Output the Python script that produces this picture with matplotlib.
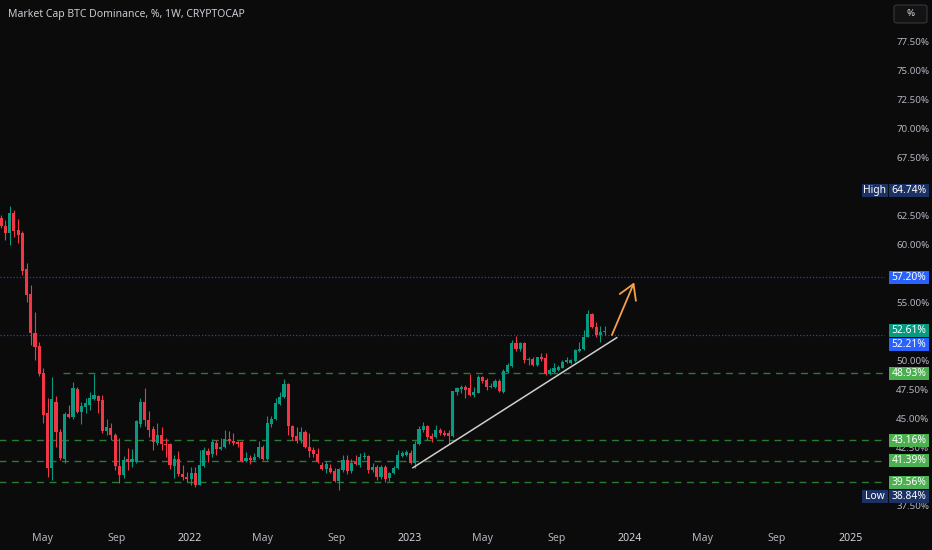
import numpy as np
import pandas as pd
import matplotlib
matplotlib.use('Agg')
import matplotlib.pyplot as plt
from matplotlib.patches import Rectangle, FancyBboxPatch

W, H = 932, 550
BG = '#0b0b0b'
UP, DOWN = '#089981', '#f23645'
plt.rcParams['font.family'] = ['Noto Sans', 'DejaVu Sans']

# weekly candles, BTC dominance (%)
first_week = '2021-02-22'
opens = [62.33, 61.64, 61.04, 62.76, 61.29, 61.04, 57.93, 55.78, 52.41, 51.29,
         48.97, 45.52, 40.78, 46.47, 43.88, 41.55, 45.43, 45.17, 47.59, 45.60,
         46.03, 46.21, 46.72, 46.98, 46.64, 43.97, 44.22, 43.62, 40.95, 40.17,
         41.55, 41.29, 41.29, 44.57, 46.47, 44.91, 44.14, 42.93, 43.62, 42.84,
         42.84, 40.95, 41.55, 40.26, 40.00, 39.83, 40.34, 39.31, 40.95, 42.24,
         41.98, 42.93, 42.41, 42.59, 43.28, 43.10, 43.02, 43.02, 41.38, 41.64,
         41.47, 41.72, 42.59, 41.55, 44.57, 45.00, 46.29, 46.90, 48.02, 44.40,
         43.53, 43.19, 43.88, 42.59, 42.33, 41.98, 41.03, 40.69, 40.78, 40.52,
         39.66, 40.60, 41.47, 40.52, 41.29, 41.03, 41.72, 41.81, 40.60, 40.86,
         40.00, 40.86, 39.91, 40.34, 40.78, 41.81, 41.90, 42.07, 41.21, 42.84,
         44.05, 44.40, 43.53, 43.45, 44.05, 43.79, 43.79, 43.53, 47.33, 47.59,
         47.76, 47.67, 47.07, 47.24, 48.62, 48.36, 47.76, 47.76, 48.28, 47.33,
         49.05, 49.57, 51.55, 51.03, 51.55, 50.09, 50.17, 49.66, 50.34, 50.26,
         48.88, 49.05, 49.22, 49.40, 49.91, 49.83, 50.00, 50.86, 51.03, 52.07,
         54.05, 52.93, 52.24, 52.50]
highs = [62.60, 62.16, 63.36, 63.02, 62.24, 61.21, 58.45, 56.55, 54.22, 51.64,
         49.40, 46.81, 48.62, 46.98, 44.14, 45.60, 46.21, 48.19, 47.76, 46.47,
         46.81, 47.33, 48.88, 47.07, 47.07, 45.00, 44.66, 43.79, 43.36, 41.81,
         42.50, 42.41, 44.91, 46.81, 47.67, 45.69, 44.40, 44.66, 44.31, 43.36,
         42.93, 41.90, 42.24, 41.03, 40.43, 40.86, 40.86, 42.33, 42.59, 42.50,
         43.28, 43.19, 43.36, 44.05, 43.97, 43.79, 43.10, 43.10, 42.16, 41.90,
         42.07, 43.10, 42.76, 45.26, 45.26, 46.81, 47.33, 48.45, 48.10, 44.48,
         44.31, 44.31, 44.05, 43.79, 42.59, 42.50, 41.29, 41.38, 41.12, 40.78,
         40.78, 41.90, 41.90, 41.55, 41.90, 42.07, 42.16, 41.90, 41.21, 41.03,
         41.03, 41.03, 40.43, 40.95, 42.33, 42.24, 42.33, 42.33, 43.10, 44.40,
         44.74, 44.48, 43.79, 44.48, 44.22, 44.05, 44.05, 47.41, 47.76, 47.93,
         47.93, 48.88, 47.76, 48.79, 48.71, 48.53, 48.10, 48.45, 48.45, 49.31,
         49.83, 51.81, 52.16, 51.64, 51.64, 50.34, 50.34, 50.34, 50.69, 50.69,
         49.40, 49.83, 49.66, 50.09, 50.34, 50.17, 51.03, 51.64, 52.67, 54.40,
         54.14, 53.36, 53.02, 53.02]
lows = [61.50, 60.43, 60.00, 60.69, 60.17, 57.41, 55.09, 51.38, 50.09, 48.71,
        44.66, 40.00, 39.74, 42.59, 41.47, 41.21, 45.09, 45.00, 45.52, 44.57,
        45.52, 45.78, 46.64, 45.52, 43.79, 43.62, 43.19, 40.60, 39.48, 39.91,
        40.60, 40.86, 41.21, 44.31, 44.40, 43.45, 42.33, 42.76, 42.33, 41.72,
        40.69, 39.91, 40.09, 39.74, 39.57, 39.31, 39.14, 39.31, 40.86, 41.29,
        41.72, 41.90, 42.33, 42.50, 42.84, 42.76, 42.59, 41.29, 41.29, 41.12,
        41.38, 41.64, 41.47, 41.47, 44.31, 44.91, 46.21, 46.81, 43.62, 43.19,
        42.93, 42.93, 42.50, 41.72, 41.72, 41.21, 40.60, 40.34, 40.34, 39.57,
        38.84, 40.43, 40.26, 40.34, 41.03, 40.86, 41.55, 40.34, 40.43, 39.74,
        39.83, 39.57, 39.66, 40.26, 40.69, 41.72, 41.81, 41.12, 40.78, 42.76,
        43.88, 43.19, 43.02, 43.36, 43.62, 43.53, 42.84, 43.45, 47.07, 47.24,
        46.81, 46.98, 46.90, 47.24, 48.10, 47.50, 47.67, 47.67, 47.33, 47.24,
        48.97, 49.48, 50.86, 50.86, 49.83, 49.66, 49.57, 49.57, 50.00, 48.79,
        48.79, 48.97, 49.14, 49.40, 49.83, 49.74, 49.91, 50.78, 50.95, 52.07,
        52.84, 52.07, 51.64, 52.24]
closes = [61.64, 61.04, 62.76, 61.21, 60.86, 57.76, 55.69, 52.41, 51.21, 48.88,
          45.34, 40.78, 46.72, 43.88, 41.64, 45.43, 45.17, 47.67, 45.60, 46.12,
          46.38, 46.81, 47.07, 46.55, 43.97, 44.31, 43.62, 40.95, 40.17, 41.47,
          41.38, 41.55, 44.83, 46.47, 44.91, 44.05, 43.02, 43.62, 42.84, 42.80,
          41.03, 41.55, 40.26, 40.00, 39.83, 40.34, 39.31, 41.03, 42.33, 41.90,
          43.02, 42.41, 42.59, 43.28, 43.10, 42.93, 42.84, 41.38, 41.64, 41.47,
          41.72, 42.59, 41.55, 44.66, 45.00, 46.38, 46.90, 48.02, 44.40, 43.45,
          43.10, 43.88, 42.59, 42.24, 41.98, 41.29, 40.69, 41.12, 40.43, 39.66,
          40.69, 41.47, 40.52, 41.21, 41.12, 41.72, 41.81, 40.60, 40.86, 40.00,
          40.86, 39.83, 40.34, 40.78, 41.90, 42.07, 42.16, 41.21, 42.84, 44.14,
          44.40, 43.45, 43.28, 44.05, 43.79, 43.62, 43.53, 47.41, 47.67, 47.76,
          47.50, 47.07, 47.33, 48.62, 48.28, 47.76, 47.84, 48.28, 47.41, 49.14,
          49.66, 51.55, 51.03, 51.55, 50.09, 50.17, 49.66, 50.34, 50.17, 48.88,
          49.22, 49.40, 49.48, 49.91, 50.09, 50.09, 50.95, 51.03, 52.07, 54.05,
          52.93, 52.24, 52.50, 52.61]

# drawings
support_levels = [48.93, 43.16, 41.39, 39.56]
support_starts = ['2021-06-04', '2021-02-01', '2021-02-01', '2021-02-01']
blue_levels = [57.20, 52.21]
high_value, low_value = 64.74, 38.84
trend_dates = ['2023-01-06', '2023-12-10']
trend_values = [40.80, 52.01]
arrow_dates = ['2023-12-02', '2024-01-08']
arrow_values = [52.24, 56.78]

price_ticks = [37.5, 40.0, 42.5, 45.0, 47.5, 50.0, 52.5, 55.0, 57.5, 60.0, 62.5,
               65.0, 67.5, 70.0, 72.5, 75.0, 77.5]
date_ticks = ['2021-05-01', '2021-09-01', '2022-01-01', '2022-05-01', '2022-09-01',
              '2023-01-01', '2023-05-01', '2023-09-01', '2024-01-01', '2024-05-01',
              '2024-09-01', '2025-01-01']
date_labels = ['May', 'Sep', '2022', 'May', 'Sep', '2023', 'May', 'Sep', '2024',
               'May', 'Sep', '2025']

fig = plt.figure(figsize=(W / 100, H / 100), dpi=100, facecolor=BG)
ax = fig.add_axes([0, 28 / H, 885 / W, 522 / H], facecolor=BG)

weeks = pd.date_range(first_week, periods=len(closes), freq='7D')
o, h, l, c = map(np.array, (opens, highs, lows, closes))
cols = np.where(c >= o, UP, DOWN)
ax.vlines(weeks, l, h, colors=cols, lw=0.8, zorder=3)
body = np.maximum(np.abs(c - o), 0.06)
ax.bar(weeks, body, bottom=np.minimum(o, c), width=5.2, color=cols, lw=0, zorder=4)

x_left, x_right = pd.Timestamp('2021-02-20'), pd.Timestamp('2025-02-27')
for lvl, st in zip(support_levels, support_starts):
    ax.hlines(lvl, pd.Timestamp(st), x_right, colors='#2a7a30', lw=1.0,
              linestyles=(0, (5, 4)), zorder=2)
for lvl in blue_levels:
    ax.hlines(lvl, x_left, x_right, colors='#2247c4', lw=0.9,
              linestyles=(0, (1, 1.6)), zorder=2)

ax.plot(pd.to_datetime(trend_dates), trend_values, color='#cfcfcf', lw=1.1, zorder=5)
ad = pd.to_datetime(arrow_dates)
ax.annotate('', xy=(ad[1], arrow_values[1]), xytext=(ad[0], arrow_values[0]),
            arrowprops=dict(arrowstyle='->,head_length=0.75,head_width=0.45',
                            color='#f7a04a', lw=1.3, mutation_scale=14,
                            shrinkA=0, shrinkB=0), zorder=5)

ax.set_xlim(x_left, x_right)
ax.set_ylim(36.12, 81.12)
for s in ax.spines.values():
    s.set_visible(False)

# price tags on the scale
tags = [(high_value, f'{high_value:.2f}%', '#1c3264', 'High'),
        (blue_levels[0], f'{blue_levels[0]:.2f}%', '#2962ff', None),
        (closes[-1], f'{closes[-1]:.2f}%', UP, None),
        (blue_levels[1], f'{blue_levels[1]:.2f}%', '#2962ff', None)]
tags += [(v, f'{v:.2f}%', '#4caf50', None) for v in support_levels]
tags += [(low_value, f'{low_value:.2f}%', '#1c3264', 'Low')]
tags.sort(key=lambda t: -t[0])

box_h = 14
prev = None
tag_y = []
for val, txt, col, side in tags:
    yc = ax.transData.transform((0, val))[1]
    if prev is not None and yc > prev - box_h:
        yc = prev - box_h
    prev = yc
    tag_y.append(yc)
    fig.patches.append(Rectangle((889 / W, (yc - box_h / 2 + 0.5) / H), 40 / W,
                                 (box_h - 1) / H, transform=fig.transFigure,
                                 fc=col, ec='none'))
    fig.text(909 / W, yc / H, txt, color='white', fontsize=7.4,
             ha='center', va='center')
    if side:
        fig.patches.append(Rectangle((862 / W, (yc - box_h / 2 + 0.5) / H), 26 / W,
                                     (box_h - 1) / H, transform=fig.transFigure,
                                     fc=col, ec='none'))
        fig.text(875 / W, yc / H, side, color='white', fontsize=7.4,
                 ha='center', va='center')

# scale labels that are not hidden under a tag
shown = [v for v in price_ticks
         if min(abs(ax.transData.transform((0, v))[1] - y) for y in tag_y) > 7]
ax.yaxis.tick_right()
ax.set_yticks(shown)
ax.set_yticklabels([f'{v:.2f}%' for v in shown])
ax.tick_params(axis='y', length=0, pad=8, labelsize=7.0, labelcolor='#b2b5be')
ax.set_xticks(pd.to_datetime(date_ticks))
ax.set_xticklabels(date_labels)
ax.tick_params(axis='x', length=0, pad=8, labelsize=7.6, labelcolor='#b2b5be')
for t in ax.get_xticklabels():
    if t.get_text().isdigit():
        t.set_fontweight('bold')
        t.set_color('#d1d4dc')

fig.text(8 / W, 1 - 14 / H, 'Market Cap BTC Dominance, %, 1W, CRYPTOCAP',
         color='#c9ccd4', fontsize=7.5, fontweight='bold', va='center')

# "%" button top right
fig.patches.append(FancyBboxPatch((894 / W, 1 - 23 / H), 33 / W, 18 / H,
                                  boxstyle='round,pad=0,rounding_size=0.004',
                                  transform=fig.transFigure, fc='#131313',
                                  ec='#34373f', lw=0.8))
fig.text(910.5 / W, 1 - 14 / H, '%', color='#d1d4dc', fontsize=7, ha='center', va='center')

fig.savefig('out.png', dpi=100, facecolor=BG)
